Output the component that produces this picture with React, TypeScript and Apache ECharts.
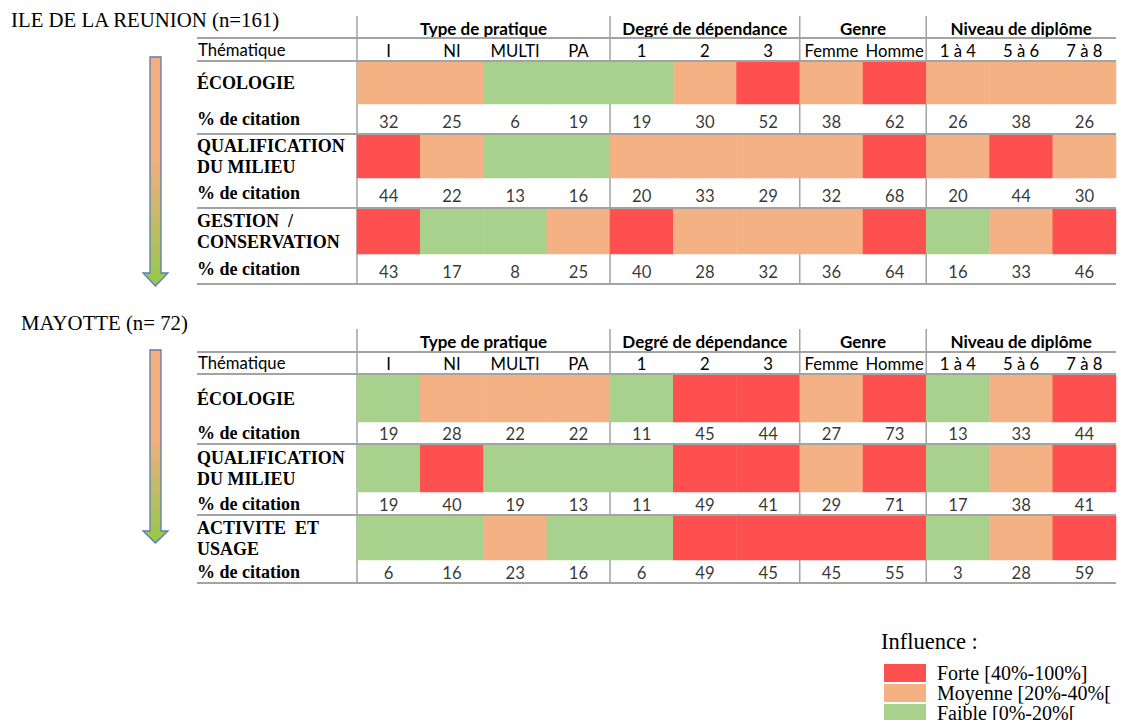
import React, { useEffect, useRef } from "react";
import * as echarts from "echarts";

// ---------- data ----------
const COLUMNS = ["I", "NI", "MULTI", "PA", "1", "2", "3", "Femme", "Homme", "1 à 4", "5 à 6", "7 à 8"];
const GROUPS = ["Type de pratique", "Degré de dépendance", "Genre", "Niveau de diplôme"];
const GROUP_SPANS = [4, 3, 2, 3];
const FIRST_HEADER = "Thématique";
const PCT_LABEL = "% de citation";

const REUNION_TITLE = "ILE DE LA REUNION (n=161)";
const REUNION_THEMES = ["ÉCOLOGIE", "QUALIFICATION\nDU MILIEU", "GESTION  /\nCONSERVATION"];
const REUNION_ECOLOGIE = [32, 25, 6, 19, 19, 30, 52, 38, 62, 26, 38, 26];
const REUNION_QUALIFICATION = [44, 22, 13, 16, 20, 33, 29, 32, 68, 20, 44, 30];
const REUNION_GESTION = [43, 17, 8, 25, 40, 28, 32, 36, 64, 16, 33, 46];

const MAYOTTE_TITLE = "MAYOTTE (n= 72)";
const MAYOTTE_THEMES = ["ÉCOLOGIE", "QUALIFICATION\nDU MILIEU", "ACTIVITE  ET\nUSAGE"];
const MAYOTTE_ECOLOGIE = [19, 28, 22, 22, 11, 45, 44, 27, 73, 13, 33, 44];
const MAYOTTE_QUALIFICATION = [19, 40, 19, 13, 11, 49, 41, 29, 71, 17, 38, 41];
const MAYOTTE_ACTIVITE = [6, 16, 23, 16, 6, 49, 45, 45, 55, 3, 28, 59];

const LEGEND_TITLE = "Influence :";
const LEVEL_LABELS = ["Forte [40%-100%]", "Moyenne [20%-40%[", "Faible [0%-20%["];
const LEVEL_MIN = [40, 20, 0];
const LEVEL_MAX = [100, 40, 20];

// ---------- styles / layout ----------
const LEVEL_COLORS = ["#FF5050", "#F4B183", "#A9D18E"];
const LINE_COLOR = "#A3A3A3";
const SANS = "Lato";
const SERIF = "Liberation Serif";
const SANS_SIZE = 16.7;
const TABLE_LEFT = 197;
const DATA_LEFT = 357;
const DATA_RIGHT = 1116;

const REUNION_LAYOUT = {
  titleX: 11, titleY: 19, top: 16, groupLine: 38, subLine: 61,
  bands: [[61, 104, 134], [134, 178, 208], [208, 254, 284]],
  numOffset: 3, arrowTop: 57, arrowHead: 273, arrowTip: 286,
};
const MAYOTTE_LAYOUT = {
  titleX: 21, titleY: 322, top: 329, groupLine: 352, subLine: 374,
  bands: [[374, 422, 444], [444, 492, 515], [515, 560, 583]],
  numOffset: 1, arrowTop: 350, arrowHead: 531, arrowTip: 543,
};

const rowLabelStyle = {
  show: true,
  align: "left" as const,
  margin: DATA_LEFT - TABLE_LEFT,
  fontFamily: SERIF,
  fontWeight: "bold" as const,
  fontSize: 18,
  lineHeight: 21,
  color: "#000",
};

function buildTable(
  option: any,
  heatIdx: number[],
  title: string,
  themes: string[],
  rows: number[][],
  L: any
) {
  const colW = (DATA_RIGHT - DATA_LEFT) / COLUMNS.length;
  rows.forEach((values, r) => {
    const [y0, y1, y2] = L.bands[r];
    // coloured band
    let gi = option.grid.length;
    option.grid.push({ left: DATA_LEFT, top: y0 + 1, width: DATA_RIGHT - DATA_LEFT, height: y1 - y0 - 1 });
    option.xAxis.push({
      type: "category", gridIndex: gi, data: COLUMNS, position: "top", show: r === 0,
      axisLine: { show: false }, axisTick: { show: false }, splitLine: { show: false },
      axisLabel: { interval: 0, margin: 3, fontFamily: SANS, fontSize: SANS_SIZE, color: "#000" },
    });
    option.yAxis.push({
      type: "category", gridIndex: gi, data: [themes[r]],
      axisLine: { show: false }, axisTick: { show: false }, splitLine: { show: false },
      axisLabel: rowLabelStyle,
    });
    option.series.push({
      type: "heatmap", xAxisIndex: gi, yAxisIndex: gi, silent: true,
      data: values.map((v, i) => [i, 0, v]),
    });
    heatIdx.push(option.series.length - 1);
    // percentage band
    gi = option.grid.length;
    option.grid.push({ left: DATA_LEFT, top: y1, width: DATA_RIGHT - DATA_LEFT, height: y2 - y1 });
    option.xAxis.push({ type: "category", gridIndex: gi, data: COLUMNS, show: false });
    option.yAxis.push({
      type: "category", gridIndex: gi, data: [PCT_LABEL],
      axisLine: { show: false }, axisTick: { show: false }, splitLine: { show: false },
      axisLabel: { ...rowLabelStyle },
    });
    option.series.push({
      type: "scatter", xAxisIndex: gi, yAxisIndex: gi, silent: true,
      symbolSize: 1, itemStyle: { color: "rgba(0,0,0,0)" },
      data: values.map((v, i) => [i, 0, v]),
      label: {
        show: true, position: "inside", offset: [0, L.numOffset],
        formatter: (p: any) => String(p.value[2]),
        fontFamily: SANS, fontSize: SANS_SIZE, color: "#000",
      },
    });
  });

  const bottom = L.bands[L.bands.length - 1][2];
  const g = option.graphic;
  g.push({
    type: "text", x: L.titleX, y: L.titleY,
    style: { text: title, fontFamily: SERIF, fontSize: 20.8, fill: "#000", verticalAlign: "middle" },
  });
  g.push({
    type: "text", x: TABLE_LEFT + 1, y: (L.groupLine + L.subLine) / 2,
    style: { text: FIRST_HEADER, fontFamily: SANS, fontSize: SANS_SIZE, fill: "#000", verticalAlign: "middle" },
  });
  let cum = 0;
  GROUPS.forEach((name, k) => {
    const start = DATA_LEFT + cum * colW;
    const end = DATA_LEFT + (cum + GROUP_SPANS[k]) * colW;
    g.push({
      type: "text", x: (start + end) / 2, y: (L.top + L.groupLine) / 2 + 1,
      style: { text: name, fontFamily: SANS, fontWeight: "bold", fontSize: 17, fill: "#000", align: "center", verticalAlign: "middle" },
    });
    g.push({
      type: "line", z: 0,
      shape: { x1: start, y1: L.top, x2: start, y2: bottom },
      style: { stroke: LINE_COLOR, lineWidth: 1.5 },
    });
    cum += GROUP_SPANS[k];
  });
  const hLines = [L.groupLine, L.subLine, ...L.bands.map((b: number[]) => b[2])];
  hLines.forEach((y: number) => {
    g.push({
      type: "line", z: 10,
      shape: { x1: TABLE_LEFT, y1: y, x2: DATA_RIGHT, y2: y },
      style: { stroke: LINE_COLOR, lineWidth: 2 },
    });
  });
  // arrow
  const xl = 150, xr = 161, hl = 143, hr = 168, xm = 155.5;
  g.push({
    type: "polygon", z: 5,
    shape: {
      points: [[xl, L.arrowTop], [xr, L.arrowTop], [xr, L.arrowHead], [hr, L.arrowHead], [xm, L.arrowTip], [hl, L.arrowHead], [xl, L.arrowHead]],
    },
    style: {
      fill: new echarts.graphic.LinearGradient(0, 0, 0, 1, [
        { offset: 0, color: "#F4AE80" },
        { offset: 0.45, color: "#F2AE7F" },
        { offset: 1, color: "#94C94A" },
      ]),
      stroke: "#5A7DB5",
      lineWidth: 1.3,
    },
  });
}

export default function App() {
  const ref = useRef<HTMLDivElement>(null);
  useEffect(() => {
    if (!ref.current) return;
    const chart = echarts.init(ref.current, undefined, { renderer: "svg" });
    const option: any = {
      animation: false,
      backgroundColor: "#fff",
      grid: [], xAxis: [], yAxis: [], series: [], graphic: [],
    };
    const heatIdx: number[] = [];
    buildTable(option, heatIdx, REUNION_TITLE, REUNION_THEMES,
      [REUNION_ECOLOGIE, REUNION_QUALIFICATION, REUNION_GESTION], REUNION_LAYOUT);
    buildTable(option, heatIdx, MAYOTTE_TITLE, MAYOTTE_THEMES,
      [MAYOTTE_ECOLOGIE, MAYOTTE_QUALIFICATION, MAYOTTE_ACTIVITE], MAYOTTE_LAYOUT);

    option.visualMap = {
      type: "piecewise",
      dimension: 2,
      seriesIndex: heatIdx,
      orient: "vertical",
      align: "left",
      left: 884,
      top: 663,
      padding: 0,
      itemWidth: 42,
      itemHeight: 18,
      itemGap: 0,
      textGap: 11,
      itemSymbol: "rect",
      selectedMode: false,
      hoverLink: false,
      pieces: LEVEL_LABELS.map((label, k) =>
        k === 0
          ? { gte: LEVEL_MIN[k], lte: LEVEL_MAX[k], color: LEVEL_COLORS[k], label }
          : { gte: LEVEL_MIN[k], lt: LEVEL_MAX[k], color: LEVEL_COLORS[k], label }
      ),
      textStyle: { fontFamily: SERIF, fontSize: 20, color: "#000" },
    };
    option.graphic.push({
      type: "text", x: 881, y: 641,
      style: { text: LEGEND_TITLE, fontFamily: SERIF, fontSize: 22.5, fill: "#000", verticalAlign: "middle" },
    });
    chart.setOption(option);
    return () => chart.dispose();
  }, []);
  return <div ref={ref} style={{ position: "fixed", left: 0, top: 0, width: 1122, height: 720, background: "#fff" }} />;
}
